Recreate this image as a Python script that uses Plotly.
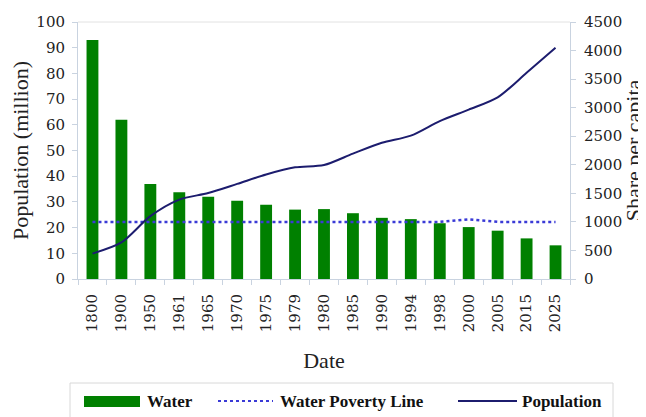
import plotly.graph_objects as go

# categories and series
dates = ["1800", "1900", "1950", "1961", "1965", "1970", "1975", "1979", "1980",
         "1985", "1990", "1994", "1998", "2000", "2005", "2015", "2025"]
water = [93, 62, 37, 33.8, 32, 30.4, 28.9, 27, 27.2,
         25.6, 23.8, 23.3, 21.7, 20.2, 18.8, 15.8, 13.1]
poverty_line = [1000, 1000, 1000, 1000, 1000, 1000, 1000, 1000, 1000,
                1000, 1000, 1000, 1000, 1045, 1000, 1000, 1000]
population = [445, 640, 1100, 1390, 1505, 1665, 1830, 1955, 1995,
              2195, 2385, 2510, 2765, 2965, 3180, 3610, 4050]

SERIF = "Liberation Serif, Times New Roman, serif"
# digits don't render in Liberation Serif here, so the numbers use DejaVu Serif
DIGITS = "DejaVu Serif"
AXIS_COL = "#c9d3e0"
GREEN = "#008000"
DOT_BLUE = "#3a3ad6"
NAVY = "#1c1c6e"

# the page body adds an 8px margin, so the figure is made smaller and
# everything below is given in page pixels, then shifted by OFF
OFF = 8
W, H = 646 - OFF, 417 - OFF
L, R, T, B = 78, 570, 22, 279  # plot area in page pixels


def px(x):
    return (x - L) / (R - L)


def py(y):
    return (B - y) / (B - T)


fig = go.Figure()

fig.add_trace(go.Bar(
    x=dates, y=water, name="Water",
    marker=dict(color=GREEN, line=dict(width=0)),
    width=0.41, yaxis="y",
))
fig.add_trace(go.Scatter(
    x=dates, y=poverty_line, name="Water Poverty Line", mode="lines",
    line=dict(color=DOT_BLUE, width=2.5, dash="dot"), yaxis="y2",
))
fig.add_trace(go.Scatter(
    x=dates, y=population, name="Population", mode="lines",
    line=dict(color=NAVY, width=2, shape="spline", smoothing=0.8), yaxis="y2",
))

tickfont = dict(family=DIGITS, size=15, color="#222")
titlefont = dict(family=SERIF, size=22, color="#222")

fig.update_layout(
    width=W, height=H,
    margin=dict(l=L - OFF, r=646 - R, t=T - OFF, b=417 - B),
    paper_bgcolor="white", plot_bgcolor="white",
    font=dict(family=SERIF, size=17, color="#222"),
    showlegend=False,
    xaxis=dict(
        type="category", tickangle=-90, showgrid=False, automargin=False,
        showline=True, linecolor=AXIS_COL,
        ticks="outside", tickson="boundaries", ticklen=5, tickcolor=AXIS_COL,
        tickfont=tickfont, ticklabelstandoff=8,
        title=dict(text="Date", font=titlefont, standoff=21),
    ),
    yaxis=dict(
        range=[0, 100], dtick=10, showgrid=False, zeroline=False, automargin=False,
        showline=True, linecolor=AXIS_COL, ticks="outside", ticklen=5,
        tickcolor=AXIS_COL, tickfont=tickfont, ticklabelstandoff=4,
        title=dict(text="Population (million)", font=titlefont, standoff=9),
    ),
    yaxis2=dict(
        range=[0, 4500], dtick=500, overlaying="y", side="right", automargin=False,
        showgrid=False, zeroline=False, showline=True, linecolor=AXIS_COL,
        ticks="outside", ticklen=5, tickcolor=AXIS_COL, tickfont=tickfont,
        ticklabelstandoff=5,
        title=dict(text="Share per capita", font=titlefont, standoff=7),
    ),
)

# top frame line of the plot area
shapes = [dict(type="line", xref="paper", yref="paper", x0=0, x1=1, y0=1, y1=1,
               line=dict(color="#e2e2e2", width=1))]

# legend drawn by hand so the keys can be as long as in the original
legend_y = 401
shapes += [
    dict(type="rect", xref="paper", yref="paper", x0=px(70), x1=px(613),
         y0=py(383), y1=py(425), line=dict(color="#d8d8d8", width=1),
         fillcolor="white", layer="below"),
    dict(type="rect", xref="paper", yref="paper", x0=px(84), x1=px(140),
         y0=py(407), y1=py(396), fillcolor=GREEN, line=dict(width=0)),
    dict(type="line", xref="paper", yref="paper", x0=px(218), x1=px(273),
         y0=py(legend_y), y1=py(legend_y), line=dict(color=DOT_BLUE, width=2, dash="dot")),
    dict(type="line", xref="paper", yref="paper", x0=px(458), x1=px(517),
         y0=py(legend_y), y1=py(legend_y), line=dict(color=NAVY, width=2)),
]
legend_labels = [("Water", 145), ("Water Poverty Line", 278), ("Population", 520)]
annotations = [
    dict(text="<b>%s</b>" % txt, xref="paper", yref="paper", x=px(x0), y=py(legend_y),
         xanchor="left", yanchor="middle", showarrow=False,
         font=dict(family=SERIF, size=17, color="#111"))
    for txt, x0 in legend_labels
]

fig.update_layout(shapes=shapes, annotations=annotations)

fig.write_html("out.html")
